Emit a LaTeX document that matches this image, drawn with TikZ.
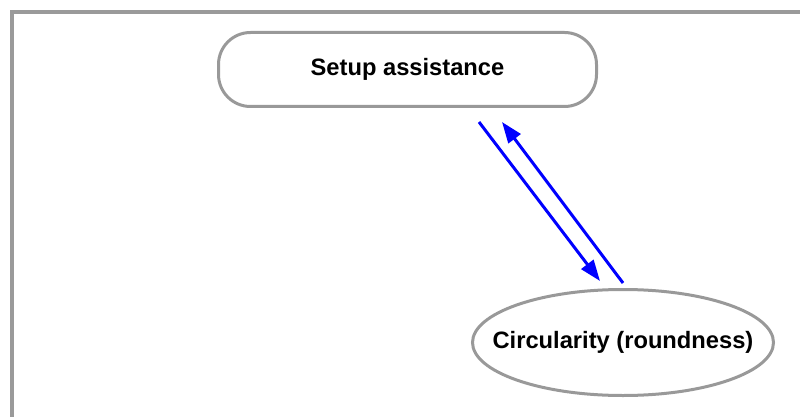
\documentclass[tikz,border=0pt]{standalone}
\usepackage{fontspec}
\setmainfont{Liberation Sans}
\usetikzlibrary{arrows.meta,shapes.geometric}
\definecolor{framegray}{HTML}{9A9A9A}
\definecolor{nodegray}{HTML}{999999}
\definecolor{arrowblue}{HTML}{0000FF}
\tikzset{
  frameline/.style={draw=framegray, line width=4pt},
  pill/.style={draw=nodegray, line width=3pt, rounded corners=32pt, minimum width=378pt, minimum height=74pt, inner sep=0pt, font=\fontsize{23.7}{28}\selectfont\bfseries},
  oval/.style={ellipse, draw=nodegray, line width=3pt, minimum width=301pt, minimum height=106pt, inner sep=0pt, font=\fontsize{23.7}{28}\selectfont\bfseries},
  flow/.style={draw=arrowblue, line width=3pt, -{Triangle[length=21pt,width=15pt]}}
}
\begin{document}
\begin{tikzpicture}[x=1pt,y=-1pt]
\useasboundingbox (0,0) rectangle (800,417);
\draw[frameline] (12,417) -- (12,12) -- (800,12);
\node[pill] (setup) at (407.5,69.5) {Setup assistance};
\node[oval] (circ) at (623,342.5) {\makebox[0pt]{Circularity (roundness)}};
\coordinate (d1) at (479,122);
\coordinate (d2) at (600,281);
\coordinate (u1) at (623,283);
\coordinate (u2) at (502,122);
\draw[flow] (d1) -- (d2);
\draw[flow] (u1) -- (u2);
\end{tikzpicture}
\end{document}
